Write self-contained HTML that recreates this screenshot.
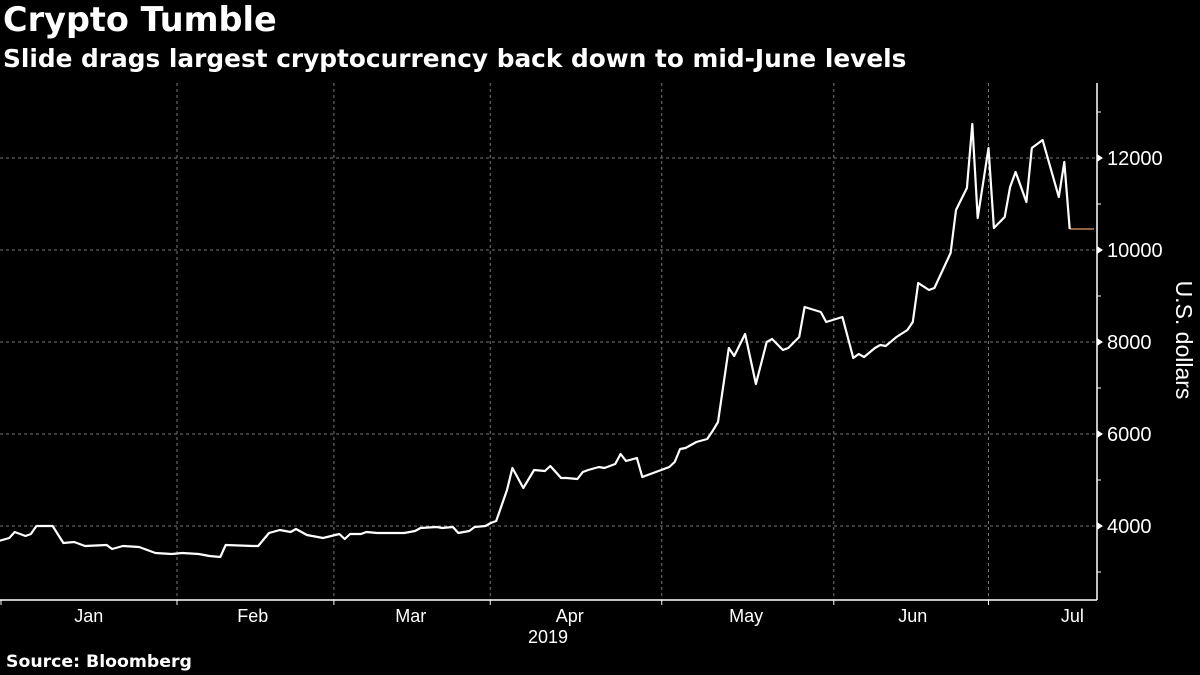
<!DOCTYPE html>
<html><head><meta charset="utf-8">
<style>
html,body{margin:0;padding:0;background:#000;}
#wrap{position:relative;width:1200px;height:675px;background:#000;overflow:hidden;}
.t{position:absolute;color:#fff;font-family:"DejaVu Sans","Liberation Sans",sans-serif;font-weight:bold;white-space:nowrap;}
svg text{font-family:"Liberation Sans",sans-serif;fill:#fff;}
</style></head><body>
<div id="wrap">
<div class="t" style="left:3px;top:0px;font-size:33.5px;">Crypto Tumble</div>
<div class="t" style="left:3px;top:44px;font-size:24.8px;">Slide drags largest cryptocurrency back down to mid-June levels</div>
<div class="t" style="left:6px;top:652px;font-size:17.3px;">Source: Bloomberg</div>
<svg id="chart" width="1200" height="675" style="position:absolute;left:0;top:0"></svg>
</div>
<script>
const days = [-2,0,1,3,4,5,8,10,12,14,18,19,21,24,27,30,32,35,37,39,40,45,46,48,50,52,53,55,56,58,61,62,63,65,66,68,73,75,76,79,80,82,83,85,86,88,89,90,92,93,95,97,99,100,102,103,105,106,107,109,110,112,113,114,116,117,118,120,122,123,124,125,127,129,130,131,133,134,136,138,140,141,143,144,146,147,150,151,154,156,157,158,160,161,162,164,166,167,168,170,171,174,175,177,178,179,181,182,184,185,186,188,189,191,194,195,196];
const prices = [3674,3739,3870,3783,3826,4000,4000,3630,3652,3565,3587,3500,3565,3543,3413,3391,3413,3391,3348,3326,3587,3565,3565,3848,3913,3870,3935,3804,3783,3739,3826,3717,3826,3826,3870,3848,3848,3891,3957,3978,3957,3978,3848,3891,3978,4000,4065,4109,4783,5261,4826,5217,5196,5304,5043,5043,5022,5174,5217,5283,5261,5348,5565,5413,5478,5065,5109,5196,5283,5391,5674,5696,5826,5891,6065,6261,7870,7696,8174,7087,8000,8065,7826,7870,8109,8761,8652,8435,8544,7652,7739,7674,7870,7935,7913,8109,8261,8435,9283,9130,9174,9935,10870,11348,12739,10696,12217,10478,10717,11370,11696,11043,12217,12391,11152,11913,10457];
const yTicks = [4000,6000,8000,10000,12000];
const yMinorTicks = [3000,5000,7000,9000,11000,13000];
const monthStarts = [31,60,88.9,120.6,152.4,181];
const monthLabels = ["Jan","Feb","Mar","Apr","May","Jun","Jul"];
const monthMids = [14.7,45,74.2,103.6,136.2,167,196.5];
const lastDay = 200.5;

const NS="http://www.w3.org/2000/svg";
const svg=document.getElementById('chart');
const X0=0,X1=1097,Y0=83,Y1=600;
function xs(d){return 9.3+5.41*d;}
function ys(v){return 526-(v-4000)*0.046;}
function mk(tag,attrs){const e=document.createElementNS(NS,tag);for(const k in attrs)e.setAttribute(k,attrs[k]);svg.appendChild(e);return e;}

yTicks.forEach(v=>{
  const g=mk('line',{x1:X0,x2:X1,y1:ys(v),y2:ys(v),stroke:'#777','stroke-width':1,'stroke-dasharray':'3,3'});
  
  
  const m=mk('path',{d:`M${X1} ${ys(v)-4} L${X1+6} ${ys(v)} L${X1} ${ys(v)+4}Z`,fill:'#fff'});
  
  
  const t=mk('text',{x:X1+10,y:ys(v)+7,'font-size':20});
  t.textContent=v;
  
  
});
yMinorTicks.forEach(v=>{
  const m=mk('line',{x1:X1,x2:X1+4,y1:ys(v),y2:ys(v),stroke:'#fff','stroke-width':1});
  
  
});
monthStarts.forEach(d=>{
  const g=mk('line',{x1:xs(d),x2:xs(d),y1:Y0,y2:Y1,stroke:'#777','stroke-width':1,'stroke-dasharray':'3,3'});
  
  
  const tk=mk('line',{x1:xs(d),x2:xs(d),y1:Y1,y2:Y1+5,stroke:'#fff','stroke-width':1});
  
  
});
monthLabels.forEach((m,i)=>{
  let x=xs(monthMids[i]);
  const t=mk('text',{x:Math.min(x,X1-20),y:622,'font-size':18,'text-anchor':'middle'});
  t.textContent=m;
  
  
});
const yr=mk('text',{x:548,y:643,'font-size':18,'text-anchor':'middle'});
yr.textContent='2019';



const ax=mk('line',{x1:X0,x2:X1,y1:Y1,y2:Y1,stroke:'#fff','stroke-width':1.5});


const ay=mk('line',{x1:X1,x2:X1,y1:Y0,y2:Y1,stroke:'#fff','stroke-width':1.5});


const lt=mk('line',{x1:1,x2:1,y1:Y1,y2:Y1+5,stroke:'#fff','stroke-width':1});



const lastV=prices[prices.length-1];
const fl=mk('line',{x1:xs(days[days.length-1]),x2:Math.min(xs(lastDay),X1),y1:ys(lastV),y2:ys(lastV),stroke:'#e89a6a','stroke-width':1.2});



const pts=days.map((d,i)=>xs(d).toFixed(1)+','+ys(prices[i]).toFixed(1)).join(' ');
const pl=mk('polyline',{points:pts,fill:'none',stroke:'#fff','stroke-width':2.2,'stroke-linejoin':'round'});



const yl=mk('text',{x:0,y:0,'font-size':23,'text-anchor':'middle',transform:'translate(1176,340) rotate(90)'});
yl.textContent='U.S. dollars';


</script>
</body></html>
